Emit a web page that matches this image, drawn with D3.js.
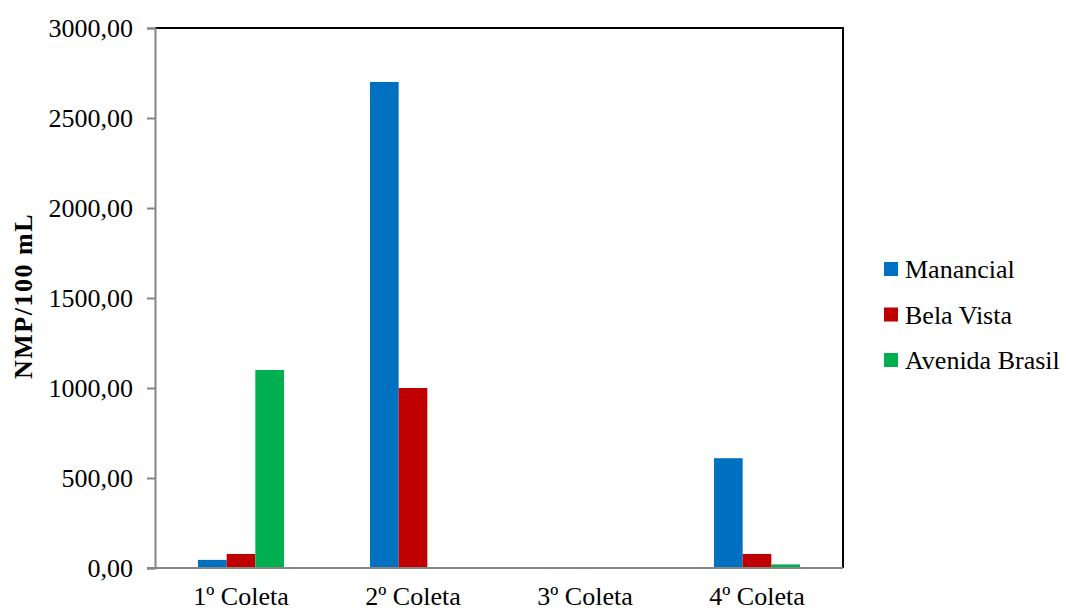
<!DOCTYPE html>
<html>
<head>
<meta charset="utf-8">
<script src="https://cdn.jsdelivr.net/npm/d3@7"></script>
<style>
  html, body { margin: 0; padding: 0; background: #fff; }
  svg { display: block; }
  text { font-family: "Liberation Serif", "Times New Roman", serif; fill: #000; }
</style>
</head>
<body>
<svg id="chart" width="1066" height="610"></svg>
<script>
// Coliform counts per sampling round
const categories = ["1º Coleta", "2º Coleta", "3º Coleta", "4º Coleta"];
const seriesNames = ["Manancial", "Bela Vista", "Avenida Brasil"];
const manancial = [45, 2700, 0, 610];
const belaVista = [78, 1000, 0, 78];
const avenidaBrasil = [1100, 0, 0, 20];
const yTicks = [0, 500, 1000, 1500, 2000, 2500, 3000];
const colors = ["#0070C0", "#C00000", "#00B050"];

const seriesValues = [manancial, belaVista, avenidaBrasil];
const rows = categories.map((c, i) => ({
  category: c,
  values: seriesNames.map((s, j) => ({ series: s, value: seriesValues[j][i] }))
}));

const svg = d3.select("#chart");
const plot = { left: 155, top: 28, right: 843, bottom: 568 };
const fontSize = 26;

const x = d3.scaleBand().domain(categories).range([plot.left, plot.right]).paddingInner(0).paddingOuter(0);
const xInner = d3.scaleBand().domain(seriesNames).range([x.bandwidth() / 4, x.bandwidth() * 3 / 4]);
const y = d3.scaleLinear().domain([0, 3000]).range([plot.bottom, plot.top]);

const fmt = v => d3.format(".2f")(v).replace(".", ",");

// bars
const groups = svg.append("g").selectAll("g").data(rows).join("g")
  .attr("transform", d => `translate(${x(d.category)},0)`);
groups.selectAll("rect").data(d => d.values).join("rect")
  .attr("x", d => xInner(d.series))
  .attr("width", xInner.bandwidth())
  .attr("y", d => y(d.value))
  .attr("height", d => y(0) - y(d.value))
  .attr("fill", (d, i) => colors[i]);

// plot frame: top and right edges
svg.append("path")
  .attr("d", `M${plot.left},${plot.top}H${plot.right}V${plot.bottom}`)
  .attr("fill", "none").attr("stroke", "#000").attr("stroke-width", 2);

// y axis
const yAxis = svg.append("g").attr("transform", `translate(${plot.left},0)`)
  .call(d3.axisLeft(y).tickValues(yTicks).tickFormat(fmt).tickSize(8).tickPadding(14));
yAxis.select(".domain").attr("stroke", "#868686").attr("stroke-width", 2);
yAxis.selectAll(".tick line").attr("stroke", "#868686").attr("stroke-width", 2);
yAxis.selectAll(".tick text").attr("font-size", fontSize).attr("fill", "#000");

// x axis
const xAxis = svg.append("g").attr("transform", `translate(0,${plot.bottom})`)
  .call(d3.axisBottom(x).tickSize(0).tickPadding(19));
xAxis.select(".domain").attr("stroke", "#868686").attr("stroke-width", 2)
  .attr("d", `M${plot.left - 8},0H${plot.right}`);
xAxis.selectAll(".tick text").attr("font-size", fontSize).attr("fill", "#000");

// y axis title
svg.append("text")
  .attr("transform", `translate(32,296) rotate(-90)`)
  .attr("text-anchor", "middle")
  .attr("font-size", 26).attr("font-weight", "bold")
  .attr("letter-spacing", 1.5)
  .text("NMP/100 mL");

// legend
const legend = svg.append("g").selectAll("g").data(seriesNames).join("g")
  .attr("transform", (d, i) => `translate(884,${262 + i * 45.5})`);
legend.append("rect").attr("width", 14).attr("height", 14).attr("fill", (d, i) => colors[i]);
legend.append("text").attr("x", 21).attr("y", 16).attr("font-size", fontSize).text(d => d);
</script>
</body>
</html>
